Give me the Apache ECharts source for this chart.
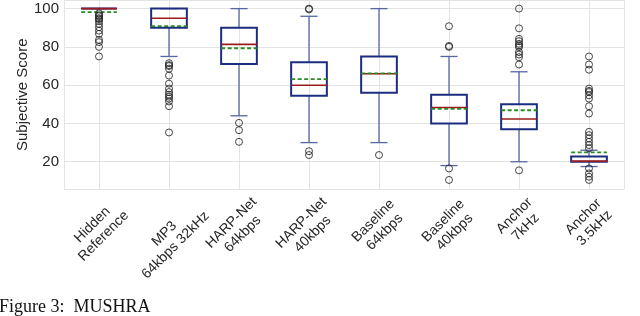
<!DOCTYPE html>
<html>
<head>
<meta charset="utf-8">
<script src="https://cdn.jsdelivr.net/npm/echarts@6/dist/echarts.min.js"></script>
<style>
html,body{margin:0;padding:0;background:#fff;}
#chart{width:640px;height:316px;}
</style>
</head>
<body>
<div id="chart"></div>
<script>
// ---- data ----
const categories = ['Hidden\nReference', 'MP3\n64kbps 32kHz', 'HARP-Net\n64kbps', 'HARP-Net\n40kbps', 'Baseline\n64kbps', 'Baseline\n40kbps', 'Anchor\n7kHz', 'Anchor\n3.5kHz'];
const whiskerLow  = [100, 75, 44, 30, 30, 18, 20, 17.5];
const q1Values    = [100, 90, 71, 54.5, 56, 40, 37, 20];
const medians     = [100, 95, 81.3, 60, 66, 48.3, 42.3, 20.3];
const q3Values    = [100, 100, 90, 72, 75, 55, 50, 22.8];
const whiskerHigh = [100, 100, 100, 96, 100, 75, 67, 26];
const means       = [98.2, 90.8, 79.3, 63.2, 66.2, 47.6, 46.9, 24.9];
const outliersHiddenRef = [97.5, 96.5, 96, 95, 94.5, 93.5, 92, 90.3, 88.5, 86.8, 83.7, 82.5, 80, 75];
const outliersMP3       = [71.5, 70.5, 70, 68.6, 65, 60.8, 58.2, 56.4, 55, 54, 53, 51.5, 49, 35.3];
const outliersHARP64    = [40.3, 36.5, 30.4];
const outliersHARP40    = [100, 99.6, 25.5, 23.5];
const outliersBase64    = [23.5];
const outliersBase40    = [90.8, 80.5, 80, 16.5, 10.5];
const outliersAnchor7   = [100, 89.7, 84.2, 83, 81.6, 80.7, 79.9, 77.3, 76, 74.6, 70.8, 15.5];
const outliersAnchor35  = [75, 70.8, 68.1, 58.2, 57, 56.4, 54.7, 53, 49, 45.2, 35.6, 33.9, 32.2, 30.4, 28.7, 27, 16.5, 13.9, 12.2, 10.5];
const yTickLabels = [20, 40, 60, 80, 100];
const captionText = 'Figure 3:  MUSHRA';

// ---- build ----
const outlierGroups = [outliersHiddenRef, outliersMP3, outliersHARP64, outliersHARP40, outliersBase64, outliersBase40, outliersAnchor7, outliersAnchor35];
const boxData = categories.map((c, i) => [i, whiskerLow[i], q1Values[i], medians[i], q3Values[i], whiskerHigh[i], means[i]]);
const outlierData = [];
outlierGroups.forEach((g, i) => g.forEach(v => outlierData.push([i, v])));

const FONT = "'Liberation Sans', Arial, sans-serif";
// desired centre of each rotated label block relative to (tick x, axis line y), in px
const labelCenter = [[-1, 41], [1, 50], [-2, 39], [-2, 39], [0, 37], [0, 37], [1, 32], [0, 33]];
const LH = 16;
const xData = categories.map((c, i) => {
  const [dx, dy] = labelCenter[i];
  const a = 0.7071 * (dx - dy);       // shift along text direction
  const b = 0.7071 * (dx + dy);       // shift perpendicular (down)
  const pT = Math.max(0, b - LH);     // two lines -> half height = LH
  const pL = a > 0 ? 2 * a : 0;
  const pR = a < 0 ? -2 * a : 0;
  return { value: c, textStyle: {
    padding: [pT, pR, 0, pL], align: 'center', verticalAlign: 'top',
    fontFamily: FONT, fontSize: 14, color: '#262626', lineHeight: LH
  } };
});

const BOX = '#1c2d80', WHISK = '#5566a0', MED = '#9b1c1c', MEAN = '#2a8a2a';

function renderBox(params, api) {
  const idx = api.value(0);
  const band = api.size([1, 0])[0];
  const bw = band * 0.51;
  const cw = bw * 0.48;
  const x = api.coord([idx, 0])[0];
  const y = v => api.coord([idx, v])[1];
  const yLo = y(api.value(1)), yQ1 = y(api.value(2)), yMed = y(api.value(3)),
        yQ3 = y(api.value(4)), yHi = y(api.value(5)), yMean = y(api.value(6));
  const wStyle = { stroke: WHISK, lineWidth: 1.3 };
  return {
    type: 'group',
    children: [
      { type: 'line', shape: { x1: x, y1: yQ3, x2: x, y2: yHi }, style: wStyle },
      { type: 'line', shape: { x1: x, y1: yQ1, x2: x, y2: yLo }, style: wStyle },
      { type: 'line', shape: { x1: x - cw / 2, y1: yHi, x2: x + cw / 2, y2: yHi }, style: wStyle },
      { type: 'line', shape: { x1: x - cw / 2, y1: yLo, x2: x + cw / 2, y2: yLo }, style: wStyle },
      { type: 'rect', shape: { x: x - bw / 2, y: yQ3, width: bw, height: yQ1 - yQ3 }, style: { fill: 'none', stroke: BOX, lineWidth: 2 } },
      { type: 'line', shape: { x1: x - bw / 2, y1: yMed, x2: x + bw / 2, y2: yMed }, style: { stroke: MED, lineWidth: 1.6 } },
      { type: 'line', shape: { x1: x - bw / 2, y1: yMean, x2: x + bw / 2, y2: yMean }, style: { stroke: MEAN, lineWidth: 1.8, lineDash: [4, 2.5] } }
    ]
  };
}

const chart = echarts.init(document.getElementById('chart'), null, { renderer: 'canvas' });
chart.setOption({
  animation: false,
  backgroundColor: '#fff',
  title: {
    text: captionText, left: -1, top: 298, padding: 0,
    textStyle: { fontFamily: "'Liberation Serif', 'Times New Roman', serif", fontSize: 18, fontWeight: 'normal', color: '#111' }
  },
  grid: { left: 64, right: 16, top: 0, bottom: 126.5, containLabel: false, outerBoundsMode: 'none' },
  xAxis: [
    {
      type: 'category', data: xData, boundaryGap: true,
      axisLine: { show: false }, axisTick: { show: false }, splitLine: { show: false },
      axisLabel: {
        interval: 0, rotate: 45, align: 'center', verticalAlign: 'top', margin: 0,
        fontFamily: FONT, fontSize: 14, color: '#262626', lineHeight: LH, hideOverlap: false
      }
    },
    {
      type: 'value', min: -0.5, max: 7.5, splitNumber: 8, position: 'bottom',
      axisLine: { show: false }, axisTick: { show: false }, axisLabel: { show: false },
      splitLine: { show: true, lineStyle: { color: '#e3e3e3', width: 1 } }
    }
  ],
  yAxis: {
    type: 'value', min: 5.5, max: 104.5, splitNumber: 5,
    name: 'Subjective Score', nameLocation: 'middle', nameGap: 34, nameMoveOverlap: false,
    nameTextStyle: { fontFamily: FONT, fontSize: 15, color: '#262626' },
    axisLine: { show: false }, axisTick: { show: false },
    axisLabel: {
      margin: 5, fontFamily: FONT, fontSize: 15, color: '#262626',
      formatter: v => (yTickLabels.indexOf(Math.round(v * 1000) / 1000) >= 0 ? String(v) : '')
    },
    splitLine: { show: true, lineStyle: { color: '#e3e3e3', width: 1 } }
  },
  series: [
    {
      type: 'custom', xAxisIndex: 0, yAxisIndex: 0, data: boxData,
      renderItem: renderBox, encode: { x: 0, y: [1, 2, 3, 4, 5, 6] }, z: 3
    },
    {
      type: 'scatter', xAxisIndex: 0, yAxisIndex: 0, data: outlierData,
      symbol: 'circle', symbolSize: 7,
      itemStyle: { color: 'rgba(255,255,255,0)', borderColor: '#1a1a1a', borderWidth: 1 }, z: 4
    }
  ]
});
</script>
</body>
</html>
